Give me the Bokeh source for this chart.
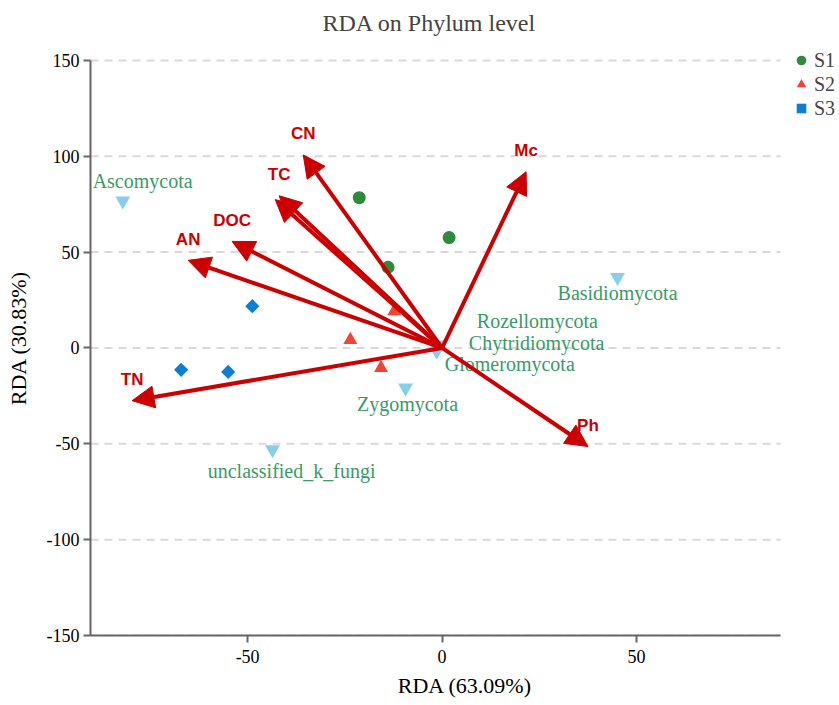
import math
from bokeh.plotting import figure
from bokeh.models import (ColumnDataSource, Arrow, NormalHead, Legend, LegendItem,
                          FixedTicker, Range1d)
from bokeh.core.properties import value
from bokeh.embed import file_html
from bokeh.resources import INLINE

# ---- data ----
env_names = ["CN", "TC", "", "DOC", "AN", "TN", "Mc", "Ph"]
env_x = [-35.7, -41.9, -42.9, -54.0, -65.3, -79.7, 21.6, 37.5]
env_y = [100.7, 79.4, 77.4, 55.6, 45.7, -27.5, 91.9, -51.4]

group_names = ["S1", "S2", "S3"]
s1_x = [-21.3, 1.8, -13.9]
s1_y = [78.4, 57.6, 42.1]
s2_x = [-12.3, -23.6, -15.7]
s2_y = [19.2, 4.2, -10.4]
s3_x = [-48.8, -67.1, -55.0]
s3_y = [21.8, -11.4, -12.5]

sp_names = ["Ascomycota", "Basidiomycota", "Rozellomycota", "Chytridiomycota",
            "Glomeromycota", "Zygomycota", "unclassified_k_fungi"]
sp_x = [-82.1, 45.1, -0.4, -1.2, -1.4, -9.4, -43.6]
sp_y = [76.8, 36.9, 1.6, -0.5, -1.6, -20.8, -53.0]
sp_lab_x = [-77.0, 45.1, 24.5, 24.3, 17.4, -8.9, -38.7]
sp_lab_y = [87.2, 28.6, 14.0, 2.6, -8.3, -29.1, -64.4]

x_ticks = [-50, 0, 50]
y_ticks = [-150, -100, -50, 0, 50, 100, 150]

# axis extents
X_MIN, X_AX_MAX = -90.4, 87.0
Y_MIN, Y_AX_MAX = -150.0, 150.0

SERIF = "Liberation Serif"
RED = "#cc0000"
C1, C2, C3 = "#2e8b3a", "#f44336", "#0a7fd4"
GRID = "#d9d9d9"

W, H = 839, 700
B_LEFT, B_TOP, B_BOTTOM = 90, 40, 63
AX_RIGHT_PX, AX_TOP_PX = 780, 60          # where the drawn axes end on screen
frame_w = W - B_LEFT
frame_h = H - B_TOP - B_BOTTOM
X_MAX = X_MIN + (X_AX_MAX - X_MIN) * frame_w / (AX_RIGHT_PX - B_LEFT)
Y_MAX = Y_MIN + (Y_AX_MAX - Y_MIN) * frame_h / (H - B_BOTTOM - AX_TOP_PX)

p = figure(width=W, height=H, output_backend="svg", toolbar_location=None,
           x_range=Range1d(X_MIN, X_MAX), y_range=Range1d(Y_MIN, Y_MAX),
           min_border_left=B_LEFT, min_border_right=0, min_border_top=B_TOP,
           min_border_bottom=B_BOTTOM)

p.title.text = "RDA on Phylum level"
p.title.align = "left"
p.title.offset = 232
p.title.text_font = SERIF
p.title.text_font_size = "24px"
p.title.text_font_style = "normal"

p.outline_line_color = None
p.xgrid.grid_line_color = None
p.ygrid.grid_line_color = None
p.xaxis.ticker = FixedTicker(ticks=x_ticks)
p.yaxis.ticker = FixedTicker(ticks=y_ticks)
p.xaxis.bounds = (X_MIN, X_AX_MAX)
p.yaxis.bounds = (Y_MIN, Y_AX_MAX)

# horizontal dashed grid lines, limited to the axis extent
p.segment(x0=[X_MIN] * len(y_ticks), y0=y_ticks, x1=[X_AX_MAX] * len(y_ticks),
          y1=y_ticks, line_color=GRID, line_width=2, line_dash="8 6")

for ax in (p.xaxis[0], p.yaxis[0]):
    ax.axis_line_color = "#666666"
    ax.axis_line_width = 2
    ax.major_tick_line_color = "#666666"
    ax.major_tick_line_width = 2
    ax.major_tick_out = 7
    ax.major_tick_in = 0
    ax.minor_tick_line_color = None
    ax.major_label_text_font = SERIF
    ax.major_label_text_font_size = "18px"
    ax.major_label_text_color = "#000000"
    ax.axis_label_text_font = SERIF
    ax.axis_label_text_font_size = "22px"
    ax.axis_label_text_font_style = "normal"
    ax.axis_label_text_color = "#000000"

p.xaxis.major_label_overrides = {t: str(t) for t in x_ticks}
p.yaxis.major_label_overrides = {t: str(t) for t in y_ticks}
p.xaxis.axis_label = "RDA (63.09%)"
p.yaxis.axis_label = "RDA (30.83%)"
p.xaxis.major_label_standoff = 7
p.xaxis.axis_label_standoff = 7
p.yaxis.major_label_standoff = 4
p.yaxis.axis_label_standoff = 13

# species markers and labels
sp_src = ColumnDataSource(dict(x=sp_x, y=sp_y, lx=sp_lab_x, ly=sp_lab_y, name=sp_names))
p.scatter("x", "y", source=sp_src, marker="inverted_triangle", size=15,
          fill_color="#87ceeb", line_color=None)
p.text("lx", "ly", text="name", source=sp_src, text_font=value(SERIF),
       text_font_size="20px", text_color="#3a9a66", text_align="center",
       text_baseline="middle")

# sample points
r1 = p.scatter(s1_x, s1_y, marker="circle", size=13, fill_color=C1, line_color=None)
r2 = p.scatter(s2_x, s2_y, marker="triangle", size=14, fill_color=C2, line_color=None)
r3 = p.scatter(s3_x, s3_y, marker="square", size=10, angle=math.pi / 4,
               fill_color=C3, line_color=None)

# environmental arrows
env_src = ColumnDataSource(dict(x0=[0] * len(env_x), y0=[0] * len(env_y),
                                x1=env_x, y1=env_y, name=env_names))
p.add_layout(Arrow(source=env_src, x_start="x0", y_start="y0", x_end="x1", y_end="y1",
                   line_color=RED, line_width=4,
                   end=NormalHead(size=22, fill_color=RED, line_color=RED, line_width=1)))
p.text("x1", "y1", text="name", source=env_src, text_font=value("Liberation Sans"),
       text_font_size="17px", text_font_style="bold", text_color=RED,
       text_align="center", text_baseline="middle", y_offset=-21)

# legend (inside the extended frame, right of the drawn axes)
legend = Legend(items=[LegendItem(label=group_names[0], renderers=[r1]),
                       LegendItem(label=group_names[1], renderers=[r2]),
                       LegendItem(label=group_names[2], renderers=[r3])],
                location=(699, 515), background_fill_alpha=0, border_line_color=None,
                label_text_font=SERIF, label_text_font_size="20px",
                glyph_width=24, glyph_height=24, spacing=0, padding=0, margin=0,
                label_standoff=1, label_height=20)
p.add_layout(legend, "center")

open("out.html", "w").write(file_html(p, INLINE))
